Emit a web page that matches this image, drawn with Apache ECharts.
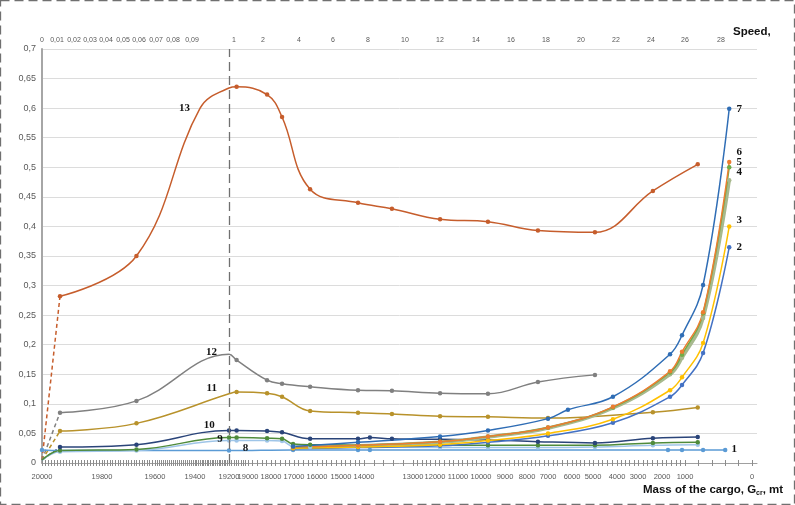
<!DOCTYPE html>
<html>
<head>
<meta charset="utf-8">
<script src="https://cdn.jsdelivr.net/npm/echarts@6/dist/echarts.min.js"></script>
<style>
  html, body { margin: 0; padding: 0; background: #fff; }
  #chart { width: 795px; height: 505px; }
</style>
</head>
<body>
<div id="chart"></div>
<script>
// Bottom axis: cargo mass (mt) and where each labelled mass sits along the axis (0..715)
const MASS_TICKS = [20000, 19800, 19600, 19400, 19200, 19000, 18000, 17000, 16000, 15000, 14000,
  13000, 12000, 11000, 10000, 9000, 8000, 7000, 6000, 5000, 4000, 3000, 2000, 1000, 0];
const MASS_STOPS = [0, 60, 113, 153, 187, 206, 229, 252, 275, 299, 322,
  371, 393, 416, 439, 463, 485, 506, 530, 551, 575, 596, 620, 643, 710];

// Top axis: speed labels and their stops along the same axis
const SPEED_LABELS = ['0', '0,01', '0,02', '0,03', '0,04', '0,05', '0,06', '0,07', '0,08', '0,09',
  '1', '2', '4', '6', '8', '10', '12', '14', '16', '18', '20', '22', '24', '26', '28'];
const SPEED_STOPS = [0, 15, 32, 48, 64, 81, 97, 114, 131, 150,
  192, 221, 257, 291, 326, 363, 398, 434, 469, 504, 539, 574, 609, 643, 679];

// Series values: [mass of the cargo, value]
const S13_LEAD = [[20000, 0.005], [19940, 0.282]];
const S13 = [[19940, 0.282], [19670, 0.35], [19370, 0.60], [19200, 0.634], [19120, 0.636], [18170, 0.623],
  [17520, 0.585], [16300, 0.463], [14260, 0.44], [13430, 0.43], [11780, 0.412], [9710, 0.408],
  [7480, 0.393], [4920, 0.39], [2380, 0.46], [810, 0.505]];
const S12_LEAD = [[20000, 0.005], [19940, 0.085]];
const S12 = [[19940, 0.085], [19670, 0.105], [19200, 0.184], [19120, 0.174], [18170, 0.14], [17520, 0.134],
  [16300, 0.129], [14260, 0.123], [13430, 0.122], [11780, 0.118], [9710, 0.117], [7480, 0.137], [4920, 0.149]];
const S11_LEAD = [[20000, 0.005], [19940, 0.054]];
const S11 = [[19940, 0.054], [19670, 0.067], [19200, 0.117], [19120, 0.12], [18170, 0.118], [17520, 0.112],
  [16300, 0.088], [14260, 0.085], [13430, 0.083], [11780, 0.079], [9710, 0.078], [7000, 0.076],
  [2380, 0.086], [810, 0.094]];
const S10_LEAD = [[20000, 0.005], [19940, 0.027]];
const S10 = [[19940, 0.027], [19670, 0.031], [19200, 0.055], [19120, 0.055], [18170, 0.054], [17520, 0.052],
  [16300, 0.041], [14260, 0.041], [13880, 0.043], [13430, 0.041], [11780, 0.04], [9710, 0.039],
  [7480, 0.036], [4920, 0.034], [2380, 0.042], [810, 0.044]];
const S9 = [[20000, 0.005], [19940, 0.021], [19670, 0.023], [19200, 0.043], [19120, 0.043], [18170, 0.042],
  [17520, 0.041], [17040, 0.032], [16300, 0.031], [14260, 0.031], [11780, 0.03], [9710, 0.03],
  [7480, 0.03], [4920, 0.03], [2380, 0.034], [810, 0.035]];
const S8 = [[20000, 0.005], [19940, 0.019], [19670, 0.021], [19200, 0.038], [19120, 0.038], [18170, 0.038],
  [17520, 0.037], [17040, 0.028], [16300, 0.027], [14260, 0.027], [11780, 0.026], [9710, 0.026],
  [7480, 0.026], [4920, 0.027], [2380, 0.03], [810, 0.031]];
const S1 = [[20000, 0.022], [19940, 0.021], [19200, 0.021], [17040, 0.022], [14260, 0.022], [13880, 0.022],
  [1740, 0.022], [1130, 0.022], [730, 0.022], [400, 0.022]];
const S7 = [[17040, 0.028], [14260, 0.035], [11780, 0.045], [9710, 0.055], [7000, 0.075], [6170, 0.09],
  [4170, 0.112], [1650, 0.184], [1130, 0.216], [730, 0.301], [340, 0.599]];
const S6 = [[17040, 0.027], [14260, 0.03], [11780, 0.036], [9710, 0.045], [7000, 0.06], [4170, 0.095],
  [1650, 0.155], [1130, 0.188], [730, 0.255], [340, 0.509]];
const S5 = [[17040, 0.027], [14260, 0.03], [11780, 0.036], [9710, 0.045], [7000, 0.06], [4170, 0.094],
  [1650, 0.153], [1130, 0.183], [730, 0.253], [340, 0.50]];
const S4 = [[17040, 0.026], [14260, 0.029], [11780, 0.035], [9710, 0.044], [7000, 0.059], [4170, 0.093],
  [1650, 0.15], [1130, 0.178], [730, 0.245], [340, 0.478]];
const S3 = [[17040, 0.025], [14260, 0.027], [11780, 0.031], [9710, 0.038], [7000, 0.05], [4170, 0.074],
  [1650, 0.123], [1130, 0.145], [730, 0.203], [340, 0.40]];
const S2 = [[17040, 0.024], [14260, 0.026], [11780, 0.029], [9710, 0.035], [7000, 0.046], [4170, 0.068],
  [1650, 0.112], [1130, 0.132], [730, 0.186], [340, 0.365]];

const AXIS_LEN = 715;
const DIVIDE_MASS = 19200; // the dashed divider between the two speed ranges

// piecewise-linear mass scale defined by the labelled stops
function massToAxis(m) {
  for (let i = 0; i < MASS_TICKS.length - 1; i++) {
    const a = MASS_TICKS[i], b = MASS_TICKS[i + 1];
    if (m <= a && m >= b) {
      return MASS_STOPS[i] + (a - m) / (a - b) * (MASS_STOPS[i + 1] - MASS_STOPS[i]);
    }
  }
  return m > MASS_TICKS[0] ? 0 : AXIS_LEN;
}

// fine tick marks along the mass axis
const massMinorTicks = [];
for (let m = 20000; m > 19200; m -= 10) massMinorTicks.push(massToAxis(m));
for (let m = 19200; m > 19000; m -= 25) massMinorTicks.push(massToAxis(m));
for (let m = 19000; m >= 0; m -= 200) massMinorTicks.push(massToAxis(m));

const LABEL_FONT = { fontFamily: 'Liberation Serif', fontWeight: 'bold', fontSize: 11, color: '#111' };
const TICK_FONT = 'Liberation Sans';

function toXY(arr) { return arr.map(p => [massToAxis(p[0]), p[1]]); }

// attach a series number label to one point
function withLabel(arr, idx, text, opts) {
  const d = toXY(arr).map(v => ({ value: v }));
  d[idx].label = Object.assign({ show: true, formatter: text }, LABEL_FONT, opts);
  return d;
}
// points drawn without a visible marker (label, if any, stays)
function hideSymbols(data, idxs) {
  idxs.forEach(i => { data[i].symbolSize = 0.01; });
  return data;
}

function line(name, color, data, extra) {
  return Object.assign({
    name: name, type: 'line', smooth: 0.4, data: data,
    symbol: 'circle', symbolSize: 4.5,
    lineStyle: { color: color, width: 1.5 },
    itemStyle: { color: color },
    emphasis: { disabled: true }, animation: false, z: 3
  }, extra || {});
}
function lead(color, data) {
  return {
    type: 'line', smooth: false, data: toXY(data), symbol: 'none',
    lineStyle: { color: color, width: 1.5, type: [4, 3] },
    animation: false, z: 2, silent: true
  };
}

const C = {
  s13: '#C65D2C', s12: '#808080', s11: '#B8922B', s10: '#2A4479', s9: '#4F8B3B', s8: '#9FC5E8',
  s1: '#5B9BD5', s2: '#4472C4', s3: '#FFC000', s4: '#A7B98E', s5: '#70AD47', s6: '#ED7D31', s7: '#2F6DB5'
};

const d13 = hideSymbols(withLabel(S13, 2, '13', { position: 'left', distance: 10, offset: [0, 0] }), [2, 3]);
const d12 = hideSymbols(withLabel(S12, 2, '12', { position: 'left', distance: 12, offset: [0, -2] }), [2]);
const d11 = hideSymbols(withLabel(S11, 2, '11', { position: 'left', distance: 12, offset: [0, -6] }), [2]);
const d10 = withLabel(S10, 2, '10', { position: 'left', distance: 12, offset: [0, -5] });
const d9 = hideSymbols(withLabel(S9, 3, '9', { position: 'left', distance: 4, offset: [0, 2] }), [0]);
const d8 = hideSymbols(withLabel(S8, 4, '8', { position: 'right', distance: 4, offset: [0, 8] }), [0]);
const d1 = withLabel(S1, S1.length - 1, '1', { position: 'right', distance: 4, offset: [0, -1] });
const d7 = withLabel(S7, S7.length - 1, '7', { position: 'right', distance: 5, offset: [0, 0] });
const d6 = withLabel(S6, S6.length - 1, '6', { position: 'right', distance: 5, offset: [0, -10] });
const d5 = withLabel(S5, S5.length - 1, '5', { position: 'right', distance: 5, offset: [0, -5] });
const d4 = withLabel(S4, S4.length - 1, '4', { position: 'right', distance: 5, offset: [0, -8] });
const d3 = withLabel(S3, S3.length - 1, '3', { position: 'right', distance: 5, offset: [0, -6] });
const d2 = withLabel(S2, S2.length - 1, '2', { position: 'right', distance: 5, offset: [0, 0] });

const chart = echarts.init(document.getElementById('chart'), null, { renderer: 'canvas' });

const DIVIDER_STYLE = { color: '#707070', width: 1.3, type: [9, 5] };

chart.setOption({
  backgroundColor: '#fff',
  animation: false,
  grid: { left: 42, right: 38, top: 49, bottom: 42, containLabel: false },
  xAxis: [
    {
      type: 'value', position: 'bottom', min: 0, max: AXIS_LEN,
      axisLine: { show: true, onZero: false, lineStyle: { color: '#a0a0a0', width: 1 } },
      axisTick: { show: true, customValues: massMinorTicks, length: 3, lineStyle: { color: '#8c8c8c' } },
      axisLabel: {
        show: true, customValues: MASS_STOPS, margin: 10,
        fontFamily: TICK_FONT, fontSize: 7.5, color: '#595959',
        formatter: v => { const i = MASS_STOPS.indexOf(v); return i >= 0 ? String(MASS_TICKS[i]) : ''; }
      },
      splitLine: { show: false }
    },
    {
      type: 'value', position: 'bottom', min: 0, max: AXIS_LEN,
      axisLine: { show: false, onZero: false },
      axisTick: { show: true, inside: true, customValues: massMinorTicks, length: 3, lineStyle: { color: '#8c8c8c' } },
      axisLabel: { show: false },
      splitLine: { show: false }
    },
    {
      type: 'value', position: 'top', min: 0, max: AXIS_LEN,
      axisLine: { show: false },
      axisTick: { show: false },
      axisLabel: {
        show: true, customValues: SPEED_STOPS, margin: 5,
        fontFamily: TICK_FONT, fontSize: 7, color: '#595959',
        formatter: v => { const i = SPEED_STOPS.indexOf(v); return i >= 0 ? SPEED_LABELS[i] : ''; }
      },
      splitLine: { show: false }
    }
  ],
  yAxis: {
    type: 'value', min: 0, max: 0.7, interval: 0.05,
    axisLine: { show: true, lineStyle: { color: '#a6a6a6', width: 2 } },
    axisTick: { show: false },
    axisLabel: {
      margin: 6, fontFamily: 'Liberation Sans', fontSize: 9, color: '#595959',
      formatter: v => String(Math.round(v * 100) / 100).replace('.', ',')
    },
    splitLine: { show: true, lineStyle: { color: '#dcdcdc', width: 1 } }
  },
  graphic: [
    {
      type: 'rect', shape: { x: 0.5, y: 0.5, width: 794, height: 504 },
      style: { fill: 'none', stroke: '#333', lineWidth: 1 }, silent: true, z: 100
    },
    {
      type: 'text', left: 733, top: 26, silent: true,
      style: { text: 'Speed,', font: 'bold 11.5px "Liberation Sans"', fill: '#111' }
    },
    {
      type: 'text', left: 643, top: 484, silent: true,
      style: {
        text: '{b|Mass of the cargo, G}{s|cr}{b|, mt}',
        rich: {
          b: { font: 'bold 11.5px "Liberation Sans"', fill: '#111' },
          s: { font: 'bold 7px "Liberation Sans"', fill: '#111', padding: [6, 0, 0, 0] }
        }
      }
    }
  ],
  series: [
    lead(C.s13, S13_LEAD), lead(C.s12, S12_LEAD), lead(C.s11, S11_LEAD), lead(C.s10, S10_LEAD),
    line('1', C.s1, d1, {
      markLine: {
        silent: true, symbol: 'none', label: { show: false },
        lineStyle: DIVIDER_STYLE,
        data: [{ xAxis: massToAxis(DIVIDE_MASS) }]
      }
    }),
    line('8', C.s8, d8),
    line('9', C.s9, d9),
    line('10', C.s10, d10),
    line('11', C.s11, d11),
    line('12', C.s12, d12),
    line('13', C.s13, d13),
    line('4', C.s4, d4, { lineStyle: { color: C.s4, width: 3.5 } }),
    line('2', C.s2, d2),
    line('3', C.s3, d3),
    line('5', C.s5, d5),
    line('6', C.s6, d6),
    line('7', C.s7, d7)
  ]
});

// continue the dashed divider up through the speed labels
const divX = chart.convertToPixel({ xAxisIndex: 0 }, massToAxis(DIVIDE_MASS));
const topY = chart.convertToPixel({ yAxisIndex: 0 }, 0.7);
chart.setOption({
  graphic: [{
    type: 'line', silent: true, z: 50,
    shape: { x1: divX, y1: topY - 17, x2: divX, y2: topY },
    style: { stroke: DIVIDER_STYLE.color, lineWidth: DIVIDER_STYLE.width, lineDash: DIVIDER_STYLE.type }
  }]
});
</script>
</body>
</html>
